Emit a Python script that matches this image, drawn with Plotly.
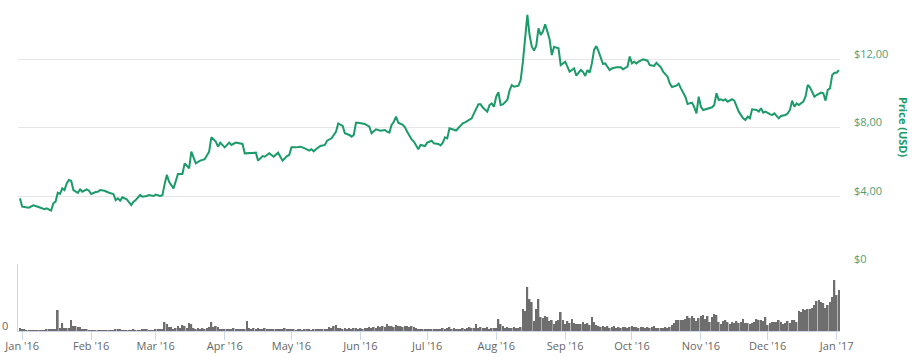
import plotly.graph_objects as go
import pandas as pd

# ---------------- price data (USD) ----------------
q1_dates = ["2015-12-31", "2016-01-01", "2016-01-04", "2016-01-06", "2016-01-08", "2016-01-11", "2016-01-12",
            "2016-01-14", "2016-01-15", "2016-01-16", "2016-01-17", "2016-01-18", "2016-01-19", "2016-01-20",
            "2016-01-21", "2016-01-22", "2016-01-23", "2016-01-24", "2016-01-26", "2016-01-27", "2016-01-28",
            "2016-01-30", "2016-01-31", "2016-02-01", "2016-02-03", "2016-02-04", "2016-02-05", "2016-02-07",
            "2016-02-09", "2016-02-11", "2016-02-12", "2016-02-13", "2016-02-14", "2016-02-15", "2016-02-17",
            "2016-02-19", "2016-02-20", "2016-02-21", "2016-02-23", "2016-02-24", "2016-02-26", "2016-02-27",
            "2016-02-29", "2016-03-01", "2016-03-03", "2016-03-04", "2016-03-05", "2016-03-06", "2016-03-07",
            "2016-03-09", "2016-03-11", "2016-03-13", "2016-03-14", "2016-03-16", "2016-03-17", "2016-03-19",
            "2016-03-21", "2016-03-23", "2016-03-25", "2016-03-26", "2016-03-28", "2016-03-29", "2016-03-30"]
q1_price = [3.86, 3.37, 3.31, 3.45, 3.37, 3.22, 3.27,
            3.14, 3.57, 3.67, 4.19, 4.12, 4.45, 4.35,
            4.74, 4.94, 4.90, 4.35, 4.19, 4.39, 4.25,
            4.39, 4.31, 4.12, 4.23, 4.25, 4.35, 4.31,
            4.19, 4.12, 3.76, 3.86, 3.73, 3.92, 3.80,
            3.47, 3.67, 3.76, 4.06, 3.96, 4.00, 4.06,
            4.00, 4.08, 4.00, 4.04, 4.70, 5.24, 4.84,
            4.45, 5.29, 5.29, 5.92, 5.63, 6.61, 5.92,
            6.08, 6.16, 6.61, 7.45, 7.20, 6.90, 7.14]

q2_dates = ["2016-04-01", "2016-04-03", "2016-04-04", "2016-04-06", "2016-04-09", "2016-04-10", "2016-04-12",
            "2016-04-15", "2016-04-16", "2016-04-18", "2016-04-19", "2016-04-21", "2016-04-23", "2016-04-25",
            "2016-04-27", "2016-04-29", "2016-04-30", "2016-05-01", "2016-05-03", "2016-05-05", "2016-05-07",
            "2016-05-09", "2016-05-10", "2016-05-11", "2016-05-12", "2016-05-14", "2016-05-16", "2016-05-17",
            "2016-05-19", "2016-05-21", "2016-05-22", "2016-05-24", "2016-05-25", "2016-05-27", "2016-05-28",
            "2016-05-29", "2016-05-30", "2016-05-31", "2016-06-03", "2016-06-04", "2016-06-05", "2016-06-06",
            "2016-06-08", "2016-06-10", "2016-06-12", "2016-06-13", "2016-06-14", "2016-06-15", "2016-06-16",
            "2016-06-17", "2016-06-18", "2016-06-20", "2016-06-21", "2016-06-22", "2016-06-24", "2016-06-25",
            "2016-06-26", "2016-06-27", "2016-06-28", "2016-06-30"]
q2_price = [6.86, 7.14, 7.00, 7.14, 7.06, 6.51, 6.51,
            6.55, 6.08, 6.35, 6.31, 6.51, 6.31, 6.55,
            6.08, 6.35, 6.41, 6.86, 6.86, 6.90, 6.80,
            6.67, 6.75, 6.63, 6.75, 6.94, 7.00, 7.25,
            7.39, 7.78, 8.27, 8.12, 7.69, 7.59, 7.49,
            7.59, 8.31, 8.31, 8.24, 8.15, 8.08, 7.69,
            7.92, 7.84, 7.88, 7.78, 7.73, 8.18, 8.37,
            8.67, 8.31, 8.18, 8.04, 7.78, 7.33, 7.20,
            6.94, 6.75, 7.00, 6.94]

q3_dates = ["2016-07-01", "2016-07-03", "2016-07-04", "2016-07-06", "2016-07-07", "2016-07-08", "2016-07-09",
            "2016-07-10", "2016-07-11", "2016-07-12", "2016-07-14", "2016-07-15", "2016-07-17", "2016-07-18",
            "2016-07-20", "2016-07-21", "2016-07-22", "2016-07-24", "2016-07-25", "2016-07-26", "2016-07-28",
            "2016-07-29", "2016-07-30", "2016-07-31", "2016-08-01", "2016-08-02", "2016-08-03", "2016-08-04",
            "2016-08-06", "2016-08-07", "2016-08-08", "2016-08-09", "2016-08-11", "2016-08-12", "2016-08-13",
            "2016-08-14", "2016-08-15", "2016-08-16", "2016-08-17", "2016-08-18", "2016-08-19", "2016-08-20",
            "2016-08-21", "2016-08-22", "2016-08-23", "2016-08-24", "2016-08-25", "2016-08-26", "2016-08-27",
            "2016-08-28", "2016-08-29", "2016-08-30", "2016-09-01", "2016-09-02", "2016-09-03", "2016-09-05",
            "2016-09-06", "2016-09-08", "2016-09-09", "2016-09-10", "2016-09-11", "2016-09-12", "2016-09-13",
            "2016-09-14", "2016-09-15", "2016-09-16", "2016-09-17", "2016-09-18", "2016-09-19", "2016-09-21",
            "2016-09-22", "2016-09-24", "2016-09-26", "2016-09-27", "2016-09-29", "2016-09-30"]
q3_price = [7.14, 7.25, 7.10, 7.06, 6.98, 7.14, 7.45,
            7.39, 7.98, 7.95, 7.85, 8.00, 8.27, 8.33,
            8.47, 8.57, 8.86, 9.39, 9.39, 9.20, 8.96,
            9.35, 9.45, 9.25, 9.84, 10.10, 9.35, 9.39,
            9.65, 10.20, 10.53, 10.43, 10.49, 10.82, 11.90,
            13.37, 14.65, 13.47, 12.78, 12.55, 12.84, 13.86,
            13.47, 13.67, 14.10, 13.67, 13.20, 12.29, 12.78,
            12.73, 12.69, 11.70, 11.90, 11.61, 11.31, 11.51,
            11.08, 11.41, 11.30, 11.06, 11.41, 11.25, 11.80,
            12.59, 12.82, 12.50, 12.10, 11.76, 11.80, 11.41,
            11.50, 11.57, 11.57, 11.45, 11.61, 12.20]

q4_dates = ["2016-10-01", "2016-10-02", "2016-10-03", "2016-10-04", "2016-10-06", "2016-10-08", "2016-10-09",
            "2016-10-11", "2016-10-12", "2016-10-14", "2016-10-15", "2016-10-17", "2016-10-18", "2016-10-19",
            "2016-10-21", "2016-10-22", "2016-10-23", "2016-10-24", "2016-10-25", "2016-10-26", "2016-10-28",
            "2016-10-29", "2016-10-30", "2016-10-31", "2016-11-01", "2016-11-02", "2016-11-04", "2016-11-06",
            "2016-11-07", "2016-11-08", "2016-11-09", "2016-11-10", "2016-11-11", "2016-11-12", "2016-11-13",
            "2016-11-15", "2016-11-16", "2016-11-17", "2016-11-18", "2016-11-20", "2016-11-21", "2016-11-22",
            "2016-11-23", "2016-11-24", "2016-11-26", "2016-11-27", "2016-11-28", "2016-11-29", "2016-11-30",
            "2016-12-02", "2016-12-03", "2016-12-04", "2016-12-05", "2016-12-06", "2016-12-07", "2016-12-09",
            "2016-12-10", "2016-12-11", "2016-12-12", "2016-12-13", "2016-12-14", "2016-12-15", "2016-12-17",
            "2016-12-18", "2016-12-19", "2016-12-20", "2016-12-22", "2016-12-23", "2016-12-25", "2016-12-26",
            "2016-12-27", "2016-12-28", "2016-12-29", "2016-12-30", "2016-12-31", "2017-01-01", "2017-01-02"]
q4_price = [11.80, 11.90, 11.80, 11.90, 12.04, 11.96, 11.70,
            11.65, 11.84, 11.57, 11.31, 11.02, 10.63, 10.41,
            10.49, 10.61, 10.33, 10.04, 9.84, 9.41, 9.49,
            9.22, 8.86, 9.84, 9.25, 9.06, 9.16, 9.22,
            9.35, 10.04, 9.65, 9.69, 9.61, 9.69, 9.55,
            9.69, 9.61, 9.22, 8.96, 8.57, 8.47, 8.67,
            8.57, 9.10, 9.06, 8.96, 9.16, 8.90, 8.96,
            8.82, 8.76, 8.86, 8.71, 8.57, 8.71, 8.76,
            8.86, 9.06, 9.61, 9.25, 9.45, 9.35, 9.55,
            9.84, 10.53, 10.39, 9.84, 9.94, 10.08, 10.04,
            9.61, 10.24, 10.33, 11.12, 11.25, 11.25, 11.41]

# ---------------- daily volume (relative units), from 2015-12-31 ----------------
vol_dec15 = [3]
vol_jan = [2, 1, 0.5, 0.3, 0.3, 0.3, 0.3, 0.3, 0.3, 0.3, 0.5, 1, 1, 1, 1, 1, 21, 3, 8, 3, 3, 3, 11, 5, 5, 4, 4, 2, 1, 1, 0.5]
vol_feb = [0.3, 0.3, 0.3, 0.3, 0.3, 0.3, 0.3, 0.3, 0.3, 0.3, 0.3, 2, 1, 2, 0.3, 0.3, 0.3, 0.3, 0.3, 2, 0.3, 0.3, 0.3,
           1.5, 1, 1.5, 0.5, 0.5, 0.5]
vol_mar = [1, 1, 1, 1, 9, 7, 4, 4, 2, 3, 5, 3, 6, 5, 3, 8, 7, 3, 2, 3, 2, 3, 2, 3, 4, 9, 4, 5, 4, 2, 2]
vol_apr = [2, 2, 1, 2, 3, 2, 1, 2, 2, 1, 10, 3, 2, 3, 2, 3, 2, 2, 3, 2, 1, 2, 1, 2, 1, 2, 1, 3, 2, 1]
vol_may = [1, 1, 0.5, 1, 1, 0.5, 1, 1, 1, 0.5, 1, 1, 1, 1, 1, 2, 1, 4, 3, 5, 6, 3, 3, 2, 3, 2, 3, 2, 3, 3, 2]
vol_jun = [3, 2, 3, 3, 4, 3, 4, 3, 5, 4, 5, 4, 7, 5, 5, 4, 6, 5, 5, 4, 5, 5, 4, 5, 4, 3, 2, 2, 1, 2]
vol_jul = [1, 2, 1, 1, 2, 1, 2, 3, 2, 3, 4, 2, 3, 1, 2, 2, 3, 2, 3, 4, 3, 3, 7, 3, 4, 3, 3, 4, 2, 3, 3]
vol_aug = [3, 12, 7, 5, 3, 4, 3, 3, 4, 3, 3, 4, 22, 20, 44, 32, 29, 10, 22, 32, 14, 13, 15, 14, 10, 11, 7, 10, 11,
           19, 11]
vol_sep = [7, 10, 8, 12, 8, 7, 7, 7, 9, 7, 8, 6, 14, 9, 6, 5, 4, 5, 4, 5, 3, 4, 5, 3, 4, 3, 4, 4, 3, 4]
vol_oct = [5, 4, 4, 3, 4, 4, 3, 4, 3, 4, 5, 3, 3, 3, 3, 4, 3, 4, 6, 8, 11, 11, 11, 11, 12, 15, 13, 15, 13, 10, 13]
vol_nov = [15, 16, 12, 15, 9, 14, 17, 16, 9, 7, 10, 11, 9, 7, 9, 8, 10, 8, 9, 12, 8, 8, 7, 8, 9, 12, 11, 11, 10, 14]
vol_dec = [6, 8, 9, 9, 9, 11, 9, 7, 8, 10, 8, 11, 11, 9, 20, 19, 22, 21, 22, 22, 23, 26, 30, 31, 29, 28, 23, 26, 29,
           34, 51]
vol_jan17 = [36, 41]

# ---------------- axis labels ----------------
tick_dates = ["2016-01-01", "2016-02-01", "2016-03-01", "2016-04-01", "2016-05-01", "2016-06-01", "2016-07-01",
              "2016-08-01", "2016-09-01", "2016-10-01", "2016-11-01", "2016-12-01", "2017-01-01"]
tick_labels = ["Jan '16", "Feb '16", "Mar '16", "Apr '16", "May '16", "Jun '16", "Jul '16",
               "Aug '16", "Sep '16", "Oct '16", "Nov '16", "Dec '16", "Jan '17"]
price_ticks = [0, 4, 8, 12]
price_tick_text = ["$0", "$4,00", "$8,00", "$12,00"]

# ---------------- build ----------------
price_dates = q1_dates + q2_dates + q3_dates + q4_dates
price_usd = q1_price + q2_price + q3_price + q4_price

volume = (vol_dec15 + vol_jan + vol_feb + vol_mar + vol_apr + vol_may + vol_jun + vol_jul + vol_aug
          + vol_sep + vol_oct + vol_nov + vol_dec + vol_jan17)
vol_dates = pd.date_range("2015-12-31", periods=len(volume), freq="D")

GREEN = "#1b9b69"
LABEL_GREEN = "#4e9e78"
FONT = "Open Sans, Lato, DejaVu Sans, sans-serif"

fig = go.Figure()
fig.add_trace(go.Bar(x=vol_dates, y=volume, xaxis="x", yaxis="y2",
                     marker=dict(color="#6e6e6e", line=dict(width=0)), hoverinfo="skip"))
fig.add_trace(go.Scatter(x=price_dates, y=price_usd, mode="lines", xaxis="x", yaxis="y",
                         line=dict(color=GREEN, width=2), hoverinfo="skip"))

annotations = []
for v, t in zip(price_ticks, price_tick_text):
    annotations.append(dict(xref="paper", x=1, xanchor="left", xshift=12, yref="y", y=v, yanchor="middle",
                            yshift=6, text=t, showarrow=False,
                            font=dict(family=FONT, size=11, color=LABEL_GREEN)))
annotations.append(dict(xref="paper", x=1, xanchor="center", xshift=63, yref="y", y=8.06, yanchor="middle",
                        text="<b>Price (USD)</b>", textangle=90, showarrow=False,
                        font=dict(family=FONT, size=11, color=GREEN)))
annotations.append(dict(xref="paper", x=0, xanchor="left", xshift=-18, yref="y2", y=0, yanchor="middle",
                        yshift=5, text="0", showarrow=False,
                        font=dict(family=FONT, size=11, color="#666666")))

fig.update_layout(
    width=919, height=357,
    margin=dict(l=18, r=79, t=10, b=26, autoexpand=False),
    paper_bgcolor="white", plot_bgcolor="white",
    showlegend=False, bargap=0.25,
    xaxis=dict(type="date", range=["2015-12-30 02:40", "2017-01-02 12:00"], anchor="y2", automargin=False,
               tickvals=tick_dates, ticktext=tick_labels, ticks="outside", ticklen=8, tickcolor="#ccd6eb",
               ticklabelstandoff=-3,
               showline=True, linecolor="#ccd6eb", showgrid=False, zeroline=False,
               tickfont=dict(family=FONT, size=11, color="#666666")),
    yaxis=dict(domain=[0.2087, 1], range=[0, 14.94], tickvals=price_ticks, showticklabels=False, automargin=False,
               showgrid=True, gridcolor="#e6e6e6", gridwidth=1, zeroline=False, ticks=""),
    yaxis2=dict(domain=[0, 0.2087], range=[0, 67], showgrid=False, showticklabels=False, automargin=False,
                showline=True, linecolor="#ccd6eb", zeroline=False, ticks=""),
    annotations=annotations,
)

fig.write_html("out.html", config={"displayModeBar": False},
               post_script="document.body.style.margin='0';document.body.style.overflow='hidden';")
